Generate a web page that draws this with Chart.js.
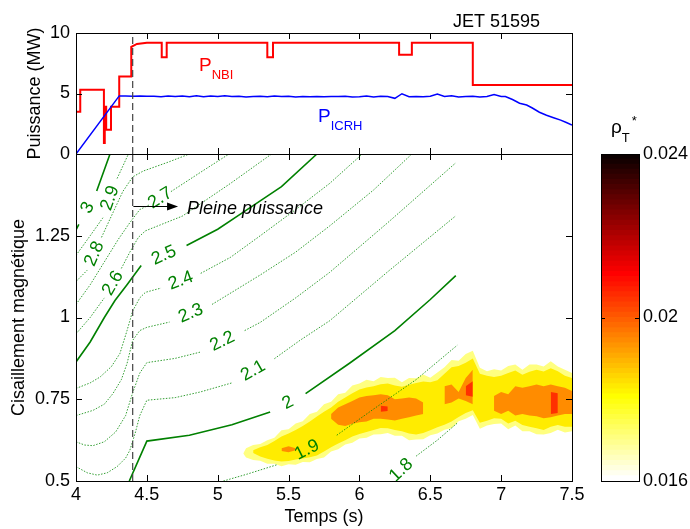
<!DOCTYPE html>
<html>
<head>
<meta charset="utf-8">
<script src="https://cdn.jsdelivr.net/npm/chart.js@4.4.0/dist/chart.umd.min.js"></script>
<style>
html, body { margin: 0; padding: 0; background: #fff; }
#wrap { position: relative; width: 690px; height: 529px; }
canvas { position: absolute; left: 0; top: 0; }
</style>
</head>
<body>
<div id="wrap">
  <canvas id="qChart" width="690" height="529"></canvas>
  <canvas id="powerChart" width="690" height="529"></canvas>
  <canvas id="barChart" width="690" height="529"></canvas>
</div>
<script>
// Top panel: heating power (MW) vs time (s)
const nbiTime  = [4.0, 4.0, 4.03, 4.03, 4.197, 4.197, 4.203, 4.203, 4.213, 4.213, 4.247, 4.247,
                  4.305, 4.305, 4.39, 4.39, 4.43, 4.5, 4.605, 4.605, 4.64, 4.64, 5.35, 5.35,
                  5.39, 5.39, 6.28, 6.28, 6.37, 6.37, 6.80, 6.80, 7.5];
const nbiPower = [0, 3.5, 3.5, 5.3, 5.3, 0.9, 0.9, 3.9, 3.9, 2.0, 2.0, 3.9,
                  3.9, 6.4, 6.4, 8.85, 9.1, 9.2, 9.2, 8.0, 8.0, 9.2, 9.2, 8.0,
                  8.0, 9.2, 9.2, 8.2, 8.2, 9.2, 9.2, 5.7, 5.7];

const icrhTime  = [4.0, 4.305, 4.35, 4.4, 4.45, 4.5, 4.55, 4.6, 4.65, 4.7, 4.75, 4.8, 4.85, 4.9,
                   4.95, 5.0, 5.05, 5.1, 5.15, 5.2, 5.25, 5.3, 5.35, 5.4, 5.45, 5.5, 5.55, 5.6,
                   5.65, 5.7, 5.75, 5.8, 5.85, 5.9, 5.95, 6.0, 6.05, 6.1, 6.15, 6.2, 6.25, 6.3,
                   6.35, 6.4, 6.45, 6.5, 6.55, 6.6, 6.65, 6.7, 6.75, 6.8, 6.85, 6.9, 6.95, 7.0,
                   7.03, 7.08, 7.13, 7.18, 7.22, 7.27, 7.32, 7.37, 7.42, 7.46, 7.5];
const icrhPower = [0, 4.8, 4.8, 4.78, 4.8, 4.77, 4.78, 4.74, 4.8, 4.76, 4.79, 4.73, 4.82, 4.74,
                   4.8, 4.76, 4.81, 4.75, 4.78, 4.72, 4.76, 4.78, 4.74, 4.8, 4.75, 4.78, 4.72, 4.75,
                   4.73, 4.76, 4.74, 4.76, 4.75, 4.77, 4.72, 4.74, 4.8, 4.72, 4.78, 4.76, 4.6, 4.98,
                   4.74, 4.76, 4.74, 4.78, 4.96, 4.76, 4.82, 4.72, 4.76, 4.78, 4.72, 4.75, 4.92, 4.75,
                   4.75, 4.5, 4.2, 4.05, 3.8, 3.45, 3.2, 3.0, 2.8, 2.6, 2.4];

const fullPowerTime = 4.4;

// Bottom panel: q contours in (time, magnetic shear); null = gap where the label sits
const qLevels = [1.8, 1.9, 2, 2.1, 2.2, 2.3, 2.4, 2.5, 2.6, 2.7, 2.8, 2.9, 3];
const q18 = [[6.19,0.49], null, [6.40,0.576], [6.55,0.625], [6.69,0.677]];
const q19 = [[5.04,0.5], [5.2,0.52], [5.42,0.55], null, [5.84,0.64], [6.1,0.72], [6.4,0.81], [6.69,0.915]];
const q20 = [[4.376,0.5], [4.5,0.622], [4.8,0.64], [5.1,0.672], [5.37,0.711], null,
             [5.62,0.767], [5.93,0.86], [6.25,0.96], [6.5,1.055], [6.68,1.128]];
const q21 = [[4.0,0.544], [4.08,0.525], [4.15,0.518], [4.22,0.525], [4.29,0.544], [4.35,0.57], [4.38,0.594],
             [4.42,0.65], [4.45,0.70], [4.5,0.747], [4.7,0.755], [4.875,0.772], [5.10,0.80], null,
             [5.40,0.874], [5.58,0.93], [5.79,0.99], [6.2,1.14], [6.68,1.311]];
const q22 = [[4.0,0.62], [4.06,0.61], [4.12,0.608], [4.2,0.62], [4.28,0.65], [4.35,0.70], [4.4,0.77],
             [4.45,0.83], [4.5,0.862], [4.7,0.875], [4.875,0.894], null,
             [5.19,0.96], [5.3,0.985], [5.55,1.06], [5.79,1.138], [6.2,1.29], [6.68,1.473]];
const q23 = [[4.0,0.70], [4.12,0.716], [4.2,0.735], [4.26,0.767], [4.32,0.81], [4.36,0.859], [4.4,0.93],
             [4.45,0.96], [4.5,0.97], [4.66,0.986], null,
             [4.96,1.04], [5.3,1.13], [5.55,1.2], [5.79,1.28], [6.1,1.39], [6.37,1.5]];
const q24 = [[4.0,0.783], [4.1,0.80], [4.17,0.818], [4.25,0.85], [4.31,0.89], [4.36,0.96], [4.4,1.02],
             [4.45,1.06], [4.49,1.077], [4.6,1.09], null,
             [4.88,1.135], [5.09,1.184], [5.3,1.25], [5.55,1.33], [5.79,1.41], [6.02,1.5]];
const q25 = [[4.0,0.864], [4.1,0.925], [4.2,1.0], [4.275,1.052], [4.36,1.10], [4.46,1.159], null,
             [4.78,1.22], [5.0,1.27], [5.16,1.316], [5.45,1.40], [5.70,1.5]];
const q26 = [[4.0,0.95], [4.1,1.0], [4.2,1.06], null, [4.32,1.15], [4.38,1.20], [4.44,1.245],
             [4.49,1.265], [4.75,1.31], [5.09,1.41], [5.38,1.5]];
const q27 = [[4.0,1.04], [4.1,1.1], [4.2,1.17], [4.3,1.24], [4.38,1.29], [4.45,1.33], [4.52,1.345], null,
             [4.67,1.385], [4.9,1.45], [5.08,1.5]];
const q28 = [[4.0,1.11], [4.08,1.145], null, [4.18,1.245], [4.26,1.32], [4.33,1.385], [4.4,1.43],
             [4.475,1.448], [4.65,1.475], [4.8,1.5]];
const q29 = [[4.0,1.19], [4.1,1.25], [4.19,1.305], null, [4.29,1.425], [4.37,1.5]];
const q30 = [[3.98,1.25], [4.02,1.285], null, [4.146,1.387], [4.24,1.5]];
const qLines = [q18, q19, q20, q21, q22, q23, q24, q25, q26, q27, q28, q29, q30];
const qSolid = [2, 2.5, 3];

// rho_T* filled contours: lower/upper edge of each level along time
const heatTime = [5.18, 5.2, 5.25, 5.3, 5.35, 5.4, 5.45, 5.5,
                  5.55, 5.6, 5.65, 5.7, 5.75, 5.8, 5.85, 5.9,
                  5.95, 6.0, 6.05, 6.1, 6.15, 6.2, 6.25, 6.3,
                  6.35, 6.4, 6.45, 6.5, 6.55, 6.6, 6.65, 6.7,
                  6.75, 6.8, 6.85, 6.9, 6.95, 7.0, 7.05, 7.1,
                  7.15, 7.2, 7.25, 7.3, 7.35, 7.4, 7.45, 7.5];
const rimHi = [.584, .600, .610, .613, .625, .632, .655, .658,
               .676, .683, .705, .712, .735, .742, .765, .770,
               .792, .798, .810, .805, .818, .815, .816, .802,
               .815, .814, .826, .816, .832, .848, .870, .868,
               .888, .898, .846, .836, .842, .838, .852, .856,
               .840, .856, .856, .850, .866, .850, .840, .830];
const rimLo = [.584, .572, .564, .562, .553, .553, .545, .551,
               .550, .558, .557, .567, .572, .590, .597, .612,
               .617, .630, .632, .642, .643, .647, .638, .638,
               .625, .627, .628, .640, .645, .657, .662, .683,
               .690, .702, .660, .670, .674, .676, .658, .670,
               .652, .652, .643, .642, .647, .657, .648, .652];
const yellowHi = [null, null, .594, .603, .610, .622, .636, .645,
                  .656, .668, .682, .697, .712, .725, .742, .755,
                  .768, .780, .786, .790, .796, .798, .792, .788,
                  .794, .800, .804, .802, .808, .828, .848, .852,
                  .862, .875, .828, .822, .818, .822, .830, .838,
                  .825, .834, .840, .835, .845, .836, .822, .815];
const yellowLo = [null, null, .586, .575, .568, .563, .560, .561,
                  .566, .569, .573, .578, .590, .603, .615, .625,
                  .636, .644, .650, .656, .662, .661, .656, .652,
                  .645, .642, .647, .655, .664, .672, .682, .696,
                  .708, .716, .678, .684, .692, .690, .676, .684,
                  .671, .666, .661, .656, .666, .671, .666, .666];
const orangeHi = [null, null, null, null, null, null, .600, .606,
                  .600, null, null, null, null, .705, .725, .735,
                  .745, .755, .760, .762, .765, .762, .750, .752,
                  .755, .752, .740, null, null, .790, .795, .772,
                  .815, .840, null, null, .760, .772, .765, .790,
                  .785, .790, .795, .790, .795, .790, .785, .775];
const orangeLo = [null, null, null, null, null, null, .592, .588,
                  .594, null, null, null, null, .690, .672, .668,
                  .675, .680, .682, .690, .690, .688, .685, .690,
                  .695, .700, .705, null, null, .735, .740, .752,
                  .745, .735, null, null, .715, .705, .715, .700,
                  .705, .700, .698, .692, .695, .700, .705, .705];
const redHi = [null, null, null, null, null, null, null, null,
               null, null, null, null, null, null, null, null,
               null, null, null, null, .730, .728, null, null,
               null, null, null, null, null, null, null, null,
               .790, .805, null, null, null, null, null, null,
               null, null, null, null, .772, .768, null, null];
const redLo = [null, null, null, null, null, null, null, null,
               null, null, null, null, null, null, null, null,
               null, null, null, null, .712, .714, null, null,
               null, null, null, null, null, null, null, null,
               .762, .758, null, null, null, null, null, null,
               null, null, null, null, .705, .708, null, null];

// Colour bar
const cbarMin = 0.016;
const cbarMax = 0.024;
const cbarTicks = [0.016, 0.02, 0.024];
const cbarSteps = 64;

const FONT = "'Liberation Sans', Arial, Helvetica, sans-serif";
Chart.defaults.font.family = FONT;
Chart.defaults.font.size = 18;
Chart.defaults.color = '#000';
Chart.defaults.animation = false;
Chart.defaults.plugins.legend.display = false;
Chart.defaults.plugins.tooltip.enabled = false;

function pts(xs, ys) {
    return xs.map((v, i) => ({ x: v, y: ys[i] }));
}

function pairPts(arr) {
    let last = 0;
    return arr.map(p => {
        if (p === null) return { x: last, y: null };
        last = p[0];
        return { x: p[0], y: p[1] };
    });
}

// Box round the plot with inward tick marks (MATLAB style)
const framePlugin = {
    id: 'frame',
    afterDraw(chart) {
        const { ctx, chartArea: a, scales } = chart;
        const len = chart.config.options.plugins.frame.len;
        ctx.save();
        ctx.strokeStyle = '#000';
        ctx.lineWidth = 1;
        ctx.strokeRect(a.left + 0.5, a.top + 0.5, a.right - a.left, a.bottom - a.top);
        ctx.beginPath();
        if (scales.x && scales.x.type === 'linear') {
            scales.x.ticks.forEach(t => {
                if (t.value <= scales.x.min || t.value >= scales.x.max) return;
                const px = Math.round(scales.x.getPixelForValue(t.value)) + 0.5;
                ctx.moveTo(px, a.top); ctx.lineTo(px, a.top + len);
                ctx.moveTo(px, a.bottom); ctx.lineTo(px, a.bottom - len);
            });
        }
        scales.y.ticks.forEach(t => {
            if (t.value <= scales.y.min + 1e-9 || t.value >= scales.y.max - 1e-9) return;
            const py = Math.round(scales.y.getPixelForValue(t.value)) + 0.5;
            ctx.moveTo(a.left, py); ctx.lineTo(a.left + len, py);
            ctx.moveTo(a.right, py); ctx.lineTo(a.right - len, py);
        });
        ctx.stroke();
        ctx.restore();
    }
};

function subText(ctx, main, sub, x, y, color) {
    ctx.fillStyle = color;
    ctx.textAlign = 'left';
    ctx.textBaseline = 'alphabetic';
    ctx.font = '19px ' + FONT;
    ctx.fillText(main, x, y);
    const w = ctx.measureText(main).width;
    ctx.font = '13px ' + FONT;
    ctx.fillText(sub, x + w, y + 8);
}

// ---------- power panel ----------
const powerLabels = {
    id: 'powerLabels',
    afterDraw(chart) {
        const { ctx, scales: { x, y } } = chart;
        ctx.save();
        subText(ctx, 'P', 'NBI', x.getPixelForValue(4.868), y.getPixelForValue(6.86), '#ff0000');
        subText(ctx, 'P', 'ICRH', x.getPixelForValue(5.708), y.getPixelForValue(2.64), '#0000ff');
        ctx.fillStyle = '#000';
        ctx.font = '18px ' + FONT;
        ctx.fillText('JET 51595', x.getPixelForValue(6.66), y.getPixelForValue(10.5));
        ctx.restore();
    }
};

const powerChart = new Chart(document.getElementById('powerChart'), {
    type: 'line',
    data: {
        datasets: [
            { data: pts(nbiTime, nbiPower), borderColor: '#ff0000', borderWidth: 2, pointRadius: 0, order: 2 },
            { data: pts(icrhTime, icrhPower), borderColor: '#0000ff', borderWidth: 1.5, pointRadius: 0, order: 1 },
            { data: [{ x: fullPowerTime, y: 0 }, { x: fullPowerTime, y: 10 }], borderColor: '#444',
              borderWidth: 1.2, borderDash: [7, 4], pointRadius: 0, order: 0 }
        ]
    },
    options: {
        responsive: false,
        devicePixelRatio: 1,
        layout: { padding: { left: 20, top: 33, right: 118, bottom: 375 } },
        scales: {
            x: {
                type: 'linear', min: 4, max: 7.5,
                ticks: { display: false, stepSize: 0.5 },
                grid: { display: false, drawTicks: false },
                border: { display: false },
                afterFit: s => { s.height = 0; }
            },
            y: {
                min: 0, max: 10,
                ticks: { stepSize: 5, padding: 6 },
                grid: { display: false, drawTicks: false },
                border: { display: false },
                title: { display: true, text: 'Puissance (MW)', padding: { top: 4, bottom: 4 } },
                afterFit: s => { s.width = 56; }
            }
        },
        plugins: { frame: { len: 6 } }
    },
    plugins: [framePlugin, powerLabels]
});

// ---------- shear / q panel ----------
const contourLabels = {
    id: 'contourLabels',
    afterDatasetsDraw(chart) {
        const { ctx, scales: { x, y } } = chart;
        ctx.save();
        ctx.font = '18px ' + FONT;
        ctx.fillStyle = 'rgb(0,128,0)';
        ctx.textAlign = 'center';
        ctx.textBaseline = 'middle';
        chart.data.datasets.forEach(d => {
            if (!d.pairs) return;
            const raw = d.pairs;
            for (let i = 1; i < raw.length - 1; i++) {
                if (raw[i] !== null) continue;
                const a = raw[i - 1], b = raw[i + 1];
                const ax = x.getPixelForValue(a[0]), ay = y.getPixelForValue(a[1]);
                const bx = x.getPixelForValue(b[0]), by = y.getPixelForValue(b[1]);
                let ang = Math.atan2(by - ay, bx - ax);
                if (ang > Math.PI / 2) ang -= Math.PI;
                if (ang < -Math.PI / 2) ang += Math.PI;
                ctx.save();
                ctx.translate((ax + bx) / 2, (ay + by) / 2);
                ctx.rotate(ang);
                ctx.fillText(d.qText, 0, 0);
                ctx.restore();
            }
        });
        ctx.restore();
    }
};

const qNotes = {
    id: 'qNotes',
    afterDraw(chart) {
        const { ctx, scales: { x, y } } = chart;
        ctx.save();
        const x1 = x.getPixelForValue(4.405), x2 = x.getPixelForValue(4.72);
        const ya = Math.round(y.getPixelForValue(1.341)) + 0.5;
        ctx.strokeStyle = '#000';
        ctx.fillStyle = '#000';
        ctx.lineWidth = 1;
        ctx.beginPath();
        ctx.moveTo(x1, ya); ctx.lineTo(x2 - 8, ya);
        ctx.stroke();
        ctx.beginPath();
        ctx.moveTo(x2, ya); ctx.lineTo(x2 - 11, ya - 4); ctx.lineTo(x2 - 11, ya + 4);
        ctx.closePath();
        ctx.fill();
        ctx.font = 'italic 18px ' + FONT;
        ctx.textAlign = 'left';
        ctx.textBaseline = 'alphabetic';
        ctx.fillText('Pleine puissance', x.getPixelForValue(4.783), y.getPixelForValue(1.317));
        ctx.restore();
    }
};

const heatBands = [
    { lo: rimLo, hi: rimHi, color: 'rgb(255,255,128)' },
    { lo: yellowLo, hi: yellowHi, color: 'rgb(255,236,0)' },
    { lo: orangeLo, hi: orangeHi, color: 'rgb(255,140,0)' },
    { lo: redLo, hi: redHi, color: 'rgb(255,48,0)' }
];

const qDatasets = [];
heatBands.forEach((b, k) => {
    const hiIdx = qDatasets.length;
    qDatasets.push({ data: pts(heatTime, b.hi), fill: hiIdx + 1, backgroundColor: b.color,
                     borderWidth: 0, borderColor: 'rgba(0,0,0,0)', pointRadius: 0, order: 50 - k });
    qDatasets.push({ data: pts(heatTime, b.lo), fill: false, borderWidth: 0,
                     borderColor: 'rgba(0,0,0,0)', pointRadius: 0, order: 50 - k });
});
qLines.forEach((line, i) => {
    const solid = qSolid.includes(qLevels[i]);
    qDatasets.push({
        data: pairPts(line),
        pairs: line,
        qText: String(qLevels[i]),
        borderColor: solid ? 'rgb(0,128,0)' : 'rgba(0,135,0,0.8)',
        borderWidth: solid ? 1.6 : 1,
        borderDash: solid ? [] : [1.5, 1.5],
        pointRadius: 0,
        fill: false,
        order: 5
    });
});
qDatasets.push({ data: [{ x: fullPowerTime, y: 0.5 }, { x: fullPowerTime, y: 1.5 }], borderColor: '#444',
                 borderWidth: 1.2, borderDash: [7, 4], pointRadius: 0, fill: false, order: 0 });

const qChart = new Chart(document.getElementById('qChart'), {
    type: 'line',
    data: { datasets: qDatasets },
    options: {
        responsive: false,
        devicePixelRatio: 1,
        layout: { padding: { left: 4, top: 154, right: 118, bottom: 1 } },
        scales: {
            x: {
                type: 'linear', min: 4, max: 7.5,
                ticks: { stepSize: 0.5, padding: 3, maxRotation: 0, callback: v => String(v) },
                grid: { display: false, drawTicks: false },
                border: { display: false },
                title: { display: true, text: 'Temps (s)', padding: { top: 0, bottom: 0 } },
                afterFit: s => { s.height = 47; }
            },
            y: {
                min: 0.5, max: 1.5,
                ticks: { stepSize: 0.25, padding: 6, callback: v => (v === 1.5 ? '' : String(v)) },
                grid: { display: false, drawTicks: false },
                border: { display: false },
                title: { display: true, text: 'Cisaillement magnétique', padding: { top: 4, bottom: 4 } },
                afterFit: s => { s.width = 72; }
            }
        },
        plugins: { frame: { len: 6 } }
    },
    plugins: [framePlugin, contourLabels, qNotes]
});

// ---------- colour bar ----------
function hotReversed(k) {
    // flipped MATLAB hot(64): k = 0 is the bottom (white)
    const i = cbarSteps - k;
    const n = 24;
    const r = i <= n ? i / n : 1;
    const g = i <= n ? 0 : (i <= 2 * n ? (i - n) / n : 1);
    const b = i <= 2 * n ? 0 : (i - 2 * n) / (cbarSteps - 2 * n);
    return `rgb(${Math.round(r * 255)},${Math.round(g * 255)},${Math.round(b * 255)})`;
}

const cbarDatasets = [];
const step = (cbarMax - cbarMin) / cbarSteps;
for (let k = 0; k < cbarSteps; k++) {
    const lo = cbarMin + k * step;
    cbarDatasets.push({
        data: [[lo, Math.min(cbarMax, lo + step * 1.05)]],
        backgroundColor: hotReversed(k),
        borderWidth: 0,
        barPercentage: 1,
        categoryPercentage: 1
    });
}

const cbarTitle = {
    id: 'cbarTitle',
    afterDraw(chart) {
        const { ctx, chartArea: a } = chart;
        ctx.save();
        ctx.fillStyle = '#000';
        ctx.textAlign = 'left';
        ctx.textBaseline = 'alphabetic';
        ctx.font = '19px ' + FONT;
        ctx.fillText('ρ', a.left + 10, a.top - 21);
        const w = ctx.measureText('ρ').width;
        ctx.font = '13px ' + FONT;
        ctx.fillText('T', a.left + 10 + w, a.top - 12);
        ctx.fillText('*', a.left + 10 + w + 10, a.top - 29);
        ctx.restore();
    }
};

const barChart = new Chart(document.getElementById('barChart'), {
    type: 'bar',
    data: { labels: ['rho'], datasets: cbarDatasets },
    options: {
        responsive: false,
        devicePixelRatio: 1,
        grouped: false,
        layout: { padding: { left: 601, top: 154, right: 0, bottom: 48 } },
        scales: {
            x: { display: false },
            y: {
                position: 'right',
                min: cbarMin, max: cbarMax,
                afterBuildTicks: s => { s.ticks = cbarTicks.map(v => ({ value: v })); },
                ticks: { padding: 4, callback: v => String(v) },
                grid: { display: false, drawTicks: false },
                border: { display: false },
                afterFit: s => { s.width = 51; }
            }
        },
        plugins: { frame: { len: 4 } }
    },
    plugins: [framePlugin, cbarTitle]
});
</script>
</body>
</html>
